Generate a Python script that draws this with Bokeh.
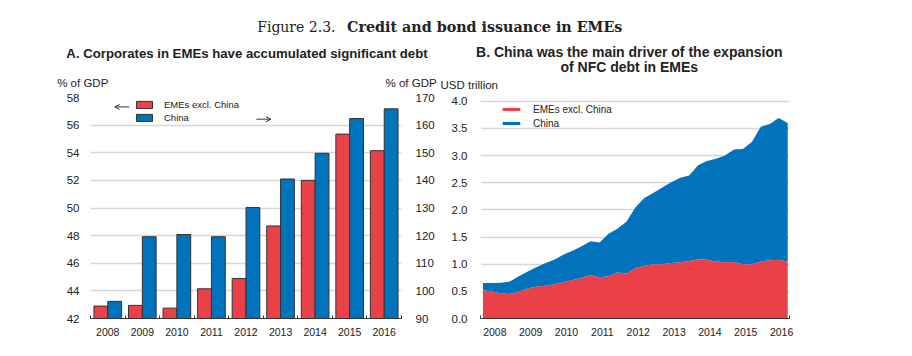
from bokeh.plotting import figure
from bokeh.models import (ColumnDataSource, Range1d, LinearAxis, FixedTicker, Label,
                          Legend, LegendItem, PrintfTickFormatter, Arrow, OpenHead)
from bokeh.layouts import column, row
from bokeh.embed import file_html
from bokeh.resources import INLINE

# ---------------- data ----------------
# Panel A: corporate debt, % of GDP
years_a = ["2008", "2009", "2010", "2011", "2012", "2013", "2014", "2015", "2016"]
emes_excl_china_pct = [42.9, 42.95, 42.75, 44.15, 44.9, 48.7, 52.0, 55.35, 54.15]   # left axis
china_pct = [96.2, 119.6, 120.4, 119.6, 130.2, 140.5, 149.8, 162.4, 165.9]        # right axis
left_ticks_a = [42, 44, 46, 48, 50, 52, 54, 56, 58]
right_ticks_a = [90, 100, 110, 120, 130, 140, 150, 160, 170]

# Panel B: NFC debt, USD trillion, quarterly 2008Q1-2016Q3
quarter_years = [2008]*4 + [2009]*4 + [2010]*4 + [2011]*4 + [2012]*4 + [2013]*4 + [2014]*4 + [2015]*4 + [2016]*3
quarter_nums = [1, 2, 3, 4]*8 + [1, 2, 3]
emes_excl_china_usd = [0.52, 0.495, 0.465, 0.45, 0.495, 0.55, 0.59, 0.605, 0.63, 0.67, 0.71, 0.75,
                       0.80, 0.76, 0.78, 0.845, 0.83, 0.93, 0.97, 1.0, 1.0, 1.02, 1.035, 1.06,
                       1.09, 1.08, 1.05, 1.035, 1.04, 1.0, 1.0, 1.05, 1.07, 1.08, 1.05]
china_usd = [0.135, 0.16, 0.195, 0.23, 0.285, 0.315, 0.36, 0.415, 0.455, 0.51, 0.535, 0.58,
             0.62, 0.64, 0.78, 0.805, 0.95, 1.115, 1.25, 1.31, 1.41, 1.49, 1.555, 1.57,
             1.73, 1.82, 1.89, 1.965, 2.07, 2.12, 2.25, 2.48, 2.51, 2.61, 2.55]
years_b = [2008, 2009, 2010, 2011, 2012, 2013, 2014, 2015, 2016]
ticks_b = [0.0, 0.5, 1.0, 1.5, 2.0, 2.5, 3.0, 3.5, 4.0]

RED = "#EA4149"
BLUE = "#0073BC"
TXT = "#222222"
GRID = "#d6d6d6"
SANS = "Liberation Sans"

# ---------------- header: figure title, panel titles, unit labels (pixel coords) ----------------
HW, HH = 900, 92
ph = figure(width=HW, height=HH, x_range=Range1d(0, HW), y_range=Range1d(0, HH),
            x_axis_type=None, y_axis_type=None, output_backend="svg", toolbar_location=None,
            min_border=0, outline_line_color=None)

def htext(x, y_top, text, size, align="left", bold=False, font=SANS, baseline="middle"):
    ph.add_layout(Label(x=x, y=HH - y_top, text=text, text_align=align, text_baseline=baseline,
                        text_font=font, text_font_size=size,
                        text_font_style="bold" if bold else "normal", text_color=TXT))

htext(335, 26, "Figure 2.3.", "14px", align="right", font="DejaVu Serif", baseline="alphabetic")
htext(346.5, 26, "Credit and bond issuance in EMEs", "14.3px", bold=True, font="DejaVu Serif",
      baseline="alphabetic")
htext(246.5, 52.7, "A. Corporates in EMEs have accumulated significant debt", "13.2px",
      align="center", bold=True)
htext(56.7, 82.7, "% of GDP", "11.5px")
htext(385, 82.7, "% of GDP", "11.5px")
htext(628.8, 51.7, "B. China was the main driver of the expansion", "14px", align="center", bold=True)
htext(628.8, 66, "of NFC debt in EMEs", "14px", align="center", bold=True)
htext(440, 84, "USD trillion", "11.5px")

# ---------------- panel A ----------------
idx = list(range(len(years_a)))
src_a = ColumnDataSource(dict(
    xr=[i - 0.2 for i in idx], xb=[i + 0.2 for i in idx],
    red=emes_excl_china_pct, blue=china_pct))

pa = figure(width=448, height=248, x_range=Range1d(-0.5, len(years_a) - 0.5),
            y_range=Range1d(left_ticks_a[0], left_ticks_a[-1]),
            output_backend="svg", toolbar_location=None,
            min_border_left=90, min_border_right=47, min_border_top=5, min_border_bottom=22)
pa.extra_y_ranges = {"china": Range1d(right_ticks_a[0], right_ticks_a[-1])}
pa.outline_line_color = None

r_red = pa.vbar(x="xr", top="red", bottom=left_ticks_a[0], width=0.4, source=src_a,
                fill_color=RED, line_color="#333333", line_width=1)
r_blue = pa.vbar(x="xb", top="blue", bottom=right_ticks_a[0], width=0.4, source=src_a,
                 y_range_name="china", fill_color=BLUE, line_color="#333333", line_width=1)

pa.xgrid.visible = False
pa.ygrid.ticker = FixedTicker(ticks=left_ticks_a)
pa.ygrid.grid_line_color = GRID
pa.ygrid.grid_line_width = 1.3

pa.xaxis.ticker = FixedTicker(ticks=idx, minor_ticks=[i - 0.5 for i in range(len(years_a) + 1)])
pa.xaxis.major_label_overrides = {i: y for i, y in zip(idx, years_a)}
pa.xaxis.major_tick_line_color = None
pa.xaxis.minor_tick_in = 3
pa.xaxis.minor_tick_out = 0
pa.xaxis.minor_tick_line_color = "#333333"
pa.xaxis.axis_line_color = "#333333"
pa.xaxis.major_label_standoff = 3
pa.xaxis.major_label_text_font = SANS
pa.xaxis.major_label_text_font_size = "10.5px"
pa.xaxis.major_label_text_color = TXT

pa.yaxis.ticker = FixedTicker(ticks=left_ticks_a)
ax_r = LinearAxis(y_range_name="china", ticker=FixedTicker(ticks=right_ticks_a))
pa.add_layout(ax_r, "right")
for ax in (pa.yaxis[0], ax_r):
    ax.axis_line_color = None
    ax.major_tick_line_color = None
    ax.minor_tick_line_color = None
    ax.major_label_text_font = SANS
    ax.major_label_text_font_size = "11.5px"
    ax.major_label_text_color = TXT
pa.yaxis[0].major_label_standoff = 5
ax_r.major_label_standoff = 8

leg_a = Legend(items=[LegendItem(label="EMEs excl. China", renderers=[r_red]),
                      LegendItem(label="China", renderers=[r_blue])],
               location=(44, 195), glyph_width=20, glyph_height=9, label_height=12,
               label_standoff=10, spacing=1, padding=0, margin=0,
               border_line_color=None, background_fill_alpha=0,
               label_text_font=SANS, label_text_font_size="9.5px", label_text_color=TXT)
pa.add_layout(leg_a)

pa.add_layout(Arrow(end=OpenHead(size=5, line_width=1, line_color="#333333"),
                    x_start=0.62, y_start=57.32, x_end=0.2, y_end=57.32,
                    line_width=1, line_color="#333333"))
pa.add_layout(Arrow(end=OpenHead(size=5, line_width=1, line_color="#333333"),
                    x_start=4.3, y_start=56.43, x_end=4.72, y_end=56.43,
                    line_width=1, line_color="#333333"))

# ---------------- panel B ----------------
xq = [y + (q - 1) * 0.25 + 0.17 for y, q in zip(quarter_years, quarter_nums)]
src_b = ColumnDataSource(dict(x=xq, emes=emes_excl_china_usd, china=china_usd))

pb = figure(width=361, height=248, x_range=Range1d(2008.1, 2016.72), y_range=Range1d(ticks_b[0], 4.068),
            output_backend="svg", toolbar_location=None,
            min_border_left=31, min_border_right=20, min_border_top=5, min_border_bottom=22)
pb.outline_line_color = None
areas = pb.varea_stack(["emes", "china"], x="x", color=[RED, BLUE], source=src_b)

pb.xgrid.visible = False
pb.ygrid.ticker = FixedTicker(ticks=ticks_b)
pb.ygrid.grid_line_color = GRID
pb.ygrid.grid_line_width = 1.3

pb.xaxis.ticker = FixedTicker(ticks=[y + 0.5 for y in years_b],
                              minor_ticks=[pb.x_range.start, pb.x_range.end])
pb.xaxis.major_label_overrides = {y + 0.5: str(y) for y in years_b}
pb.xaxis.major_tick_line_color = None
pb.xaxis.minor_tick_in = 3
pb.xaxis.minor_tick_out = 0
pb.xaxis.minor_tick_line_color = "#333333"
pb.xaxis.axis_line_color = "#333333"
pb.xaxis.major_label_standoff = 3
pb.xaxis.major_label_text_font = SANS
pb.xaxis.major_label_text_font_size = "10.5px"
pb.xaxis.major_label_text_color = TXT

pb.yaxis.ticker = FixedTicker(ticks=ticks_b)
pb.yaxis.formatter = PrintfTickFormatter(format="%.1f")
pb.yaxis.axis_line_color = None
pb.yaxis.major_tick_line_color = None
pb.yaxis.minor_tick_line_color = None
pb.yaxis.major_label_standoff = 7
pb.yaxis.major_label_text_font = SANS
pb.yaxis.major_label_text_font_size = "11.5px"
pb.yaxis.major_label_text_color = TXT

leg_b = Legend(items=[LegendItem(label="EMEs excl. China", renderers=[areas[0]]),
                      LegendItem(label="China", renderers=[areas[1]])],
               location=(20, 189), glyph_width=22, glyph_height=4, label_height=12,
               label_standoff=11, spacing=2, padding=0, margin=0,
               border_line_color=None, background_fill_alpha=0,
               label_text_font=SANS, label_text_font_size="10px", label_text_color=TXT)
pb.add_layout(leg_b)

layout = column(ph, row(pa, pb))
open("out.html", "w").write(file_html(layout, INLINE))
